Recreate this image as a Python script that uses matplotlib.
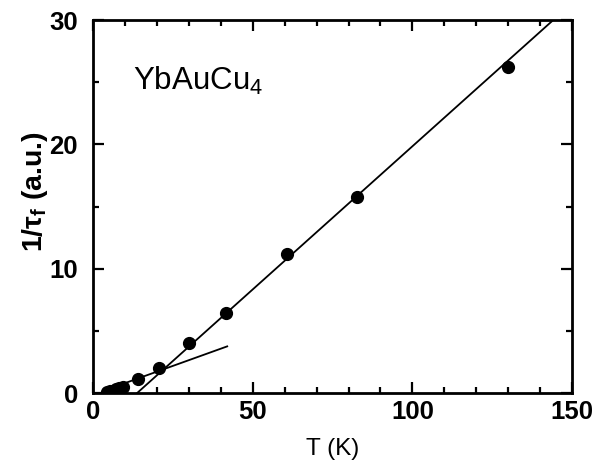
import numpy as np
import matplotlib.pyplot as plt
from matplotlib.ticker import MultipleLocator

plt.rcParams['font.family'] = ['Liberation Sans', 'DejaVu Sans']
plt.rcParams['mathtext.fontset'] = 'custom'
plt.rcParams['mathtext.rm'] = 'Liberation Sans'
plt.rcParams['mathtext.bf'] = 'Liberation Sans:bold'

# measured relaxation rate
temp = [4.3, 5.2, 6.2, 7.2, 8.2, 9.3, 14.1, 20.7, 30.1, 41.7, 60.8, 82.8, 130.0]
rate = [0.1, 0.15, 0.2, 0.3, 0.4, 0.5, 1.1, 2.0, 4.0, 6.4, 11.2, 15.8, 26.2]

# linear fits (high-T and low-T)
fit_hi_t = [13.8, 155.0]
fit_hi_y = [0.0, 32.5]
fit_lo_t = [3.0, 42.0]
fit_lo_y = [0.15, 3.75]

fig = plt.figure(figsize=(5.93, 4.61), dpi=100)
ax = fig.add_axes([0.157, 0.1475, 0.8076, 0.8091])

ax.plot(fit_hi_t, fit_hi_y, color='k', lw=1.3)
ax.plot(fit_lo_t, fit_lo_y, color='k', lw=1.3)
ax.plot(temp, rate, 'o', color='k', ms=8.5)

ax.set_xlim(0, 150)
ax.set_ylim(0, 30)

ax.xaxis.set_major_locator(MultipleLocator(50))
ax.xaxis.set_minor_locator(MultipleLocator(10))
ax.yaxis.set_major_locator(MultipleLocator(10))
ax.yaxis.set_minor_locator(MultipleLocator(5))

ax.tick_params(which='both', direction='in', top=True, right=True, width=1.6)
ax.tick_params(which='major', length=8, labelsize=18.5)
ax.tick_params(which='minor', length=4.5)
ax.tick_params(axis='x', which='major', pad=5)
ax.tick_params(axis='y', which='major', pad=11)
for lab in ax.get_xticklabels() + ax.get_yticklabels():
    lab.set_fontweight('bold')

for edge in ['left', 'right', 'bottom', 'top']:
    ax.spines[edge].set_linewidth(2)

ax.set_xlabel('T (K)', fontsize=17.5)
ax.xaxis.set_label_coords(0.5, -0.12)
ax.set_ylabel(r'1/τ$_{\bf f}$ (a.u.)', fontsize=20.5, fontweight='bold')
ax.yaxis.set_label_coords(-0.09, 0.54)

ax.text(12.5, 24.4, r'YbAuCu$_{\rm 4}$', fontsize=22.5, ha='left', va='baseline')

fig.savefig('out.png', dpi=100)
